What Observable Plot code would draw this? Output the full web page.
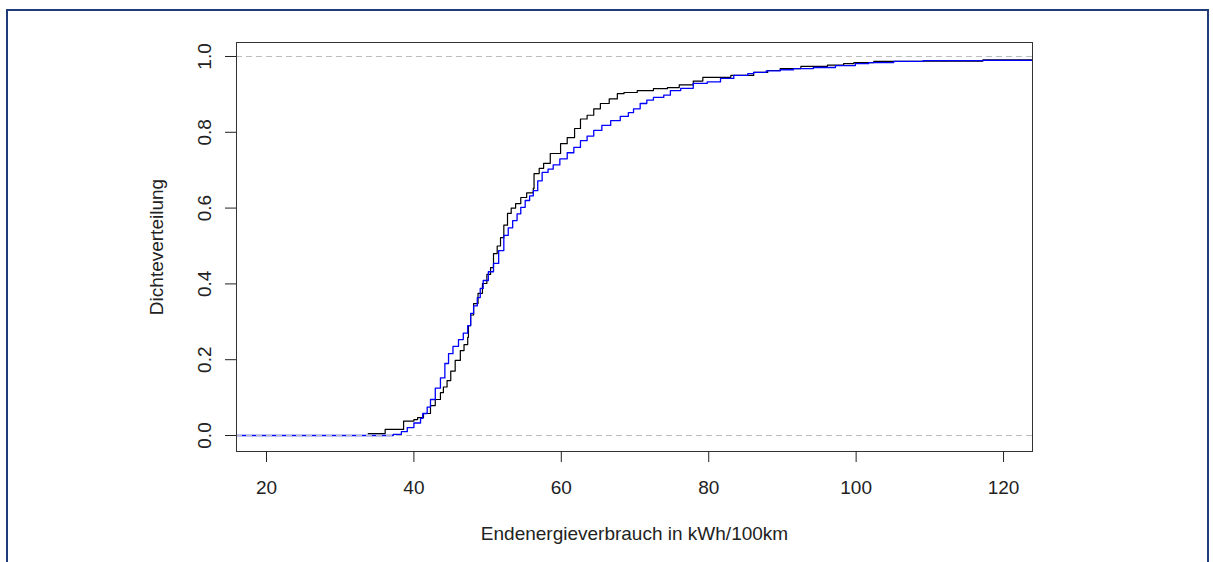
<!DOCTYPE html>
<html><head><meta charset="utf-8">
<script src="https://cdn.jsdelivr.net/npm/d3@7"></script>
<script src="https://cdn.jsdelivr.net/npm/@observablehq/plot@0.6"></script>
<style>
html,body{margin:0;padding:0;background:#fff;overflow:hidden;}
#wrap{position:relative;width:1213px;height:562px;}
#border{position:absolute;left:6px;top:9px;width:1199px;height:600px;border:2px solid #1f3c78;border-bottom:none;}
#chart{position:absolute;left:0;top:0;}
</style></head><body>
<div id="wrap"><div id="chart"></div><div id="border"></div></div>
<script>
// Endenergieverbrauch (kWh/100km) knots and cumulative share
const blackX = [33.8,36.1,38.6,40.0,40.5,41.3,42.25,42.9,43.6,44.0,44.5,45.0,45.6,46.3,46.8,47.3,47.4,47.7,48.1,48.7,49.3,49.9,50.4,50.8,51.3,51.75,52.2,52.7,53.2,53.8,54.5,55.3,56.2,56.3,57.0,57.6,58.5,59.9,60.8,61.8,62.6,63.5,64.4,65.3,66.5,67.6,68.5,70.3,72.5,74.4,76.0,77.9,79.2,83.0,86.1,88.0,89.7,92.5,96.1,98.3,99.7,102.4,109.1,117.2,130];
const blackF = [0.005,0.016,0.038,0.042,0.047,0.058,0.079,0.095,0.113,0.128,0.145,0.17,0.198,0.224,0.24,0.259,0.29,0.318,0.348,0.375,0.401,0.425,0.443,0.48,0.5,0.522,0.555,0.586,0.6,0.612,0.628,0.64,0.652,0.691,0.705,0.718,0.744,0.770,0.786,0.81,0.835,0.845,0.862,0.876,0.888,0.902,0.905,0.910,0.915,0.918,0.925,0.935,0.945,0.95,0.958,0.963,0.968,0.974,0.977,0.981,0.984,0.987,0.988,0.991,0.991];
const blueX = [0,37.2,38.3,39.1,40.0,40.9,41.2,41.8,42.25,42.9,43.6,44.2,44.7,45.3,46.05,46.7,47.3,47.7,48.1,48.6,49.0,49.4,50.1,50.8,51.5,52.2,52.8,53.4,54.0,54.5,55.1,55.7,56.2,56.8,57.4,58.2,58.9,59.8,60.8,61.7,62.6,63.5,64.4,65.5,66.7,68.0,69.1,69.8,70.7,71.6,72.5,73.9,74.8,76.2,77.9,79.8,81.6,83.4,85.3,86.1,87.8,89.7,91.5,94.2,97.2,99.9,101.7,105.1,109.1,117.2,130];
const blueF = [0,0.003,0.010,0.021,0.033,0.045,0.058,0.075,0.095,0.125,0.152,0.19,0.216,0.235,0.253,0.27,0.29,0.322,0.342,0.364,0.388,0.409,0.432,0.454,0.488,0.528,0.548,0.567,0.585,0.602,0.62,0.632,0.646,0.672,0.694,0.703,0.714,0.73,0.746,0.76,0.778,0.79,0.805,0.818,0.831,0.842,0.852,0.862,0.876,0.885,0.892,0.898,0.91,0.916,0.929,0.933,0.942,0.95,0.955,0.958,0.962,0.965,0.968,0.971,0.976,0.981,0.984,0.987,0.989,0.99,0.99];
const xTicks = [20,40,60,80,100,120];
const yTicks = [0,0.2,0.4,0.6,0.8,1.0];
const refLines = [0,1];
const xTitle = "Endenergieverbrauch in kWh/100km";
const yTitle = "Dichteverteilung";

const blackData = blackX.map((x,i)=>({x, F: blackF[i]}));
const blueData = blueX.map((x,i)=>({x, F: blueF[i]}));

const chart = Plot.plot({
  width: 1213, height: 562,
  marginLeft: 236, marginRight: 181, marginTop: 42, marginBottom: 111,
  style: {fontFamily: "'Liberation Sans', Arial, sans-serif", fontSize: "19px", background: "transparent", color: "#222"},
  x: {domain: [15.93, 123.93]},
  y: {domain: [-0.0422, 1.0369]},
  marks: [
    Plot.line(blackData, {x: "x", y: "F", curve: "step-after", stroke: "#000", strokeWidth: 1.2, clip: true}),
    Plot.line(blueData, {x: "x", y: "F", curve: "step-after", stroke: "#0000ff", strokeWidth: 1.3, clip: true}),
    Plot.ruleY(refLines, {stroke: "#bdbdbd", strokeDasharray: "6,4"}),
    Plot.frame({stroke: "#333"}),
    Plot.axisX({ticks: xTicks, tickSize: 11, tickPadding: 18, label: null, fontSize: 19}),
    Plot.axisY({ticks: yTicks, tickSize: 11, tickPadding: 15, tickRotate: -90, textAnchor: "middle", lineAnchor: "bottom", tickFormat: d3.format(".1f"), label: null, fontSize: 19}),
    Plot.text([xTitle], {frameAnchor: "bottom", dy: 88, lineAnchor: "bottom", textAnchor: "middle", fontSize: 19, fill: "#222"}),
    Plot.text([yTitle], {frameAnchor: "left", dx: -74, rotate: -90, lineAnchor: "bottom", textAnchor: "middle", fontSize: 19, fill: "#222"})
  ]
});
document.getElementById("chart").appendChild(chart);
</script>
</body></html>
